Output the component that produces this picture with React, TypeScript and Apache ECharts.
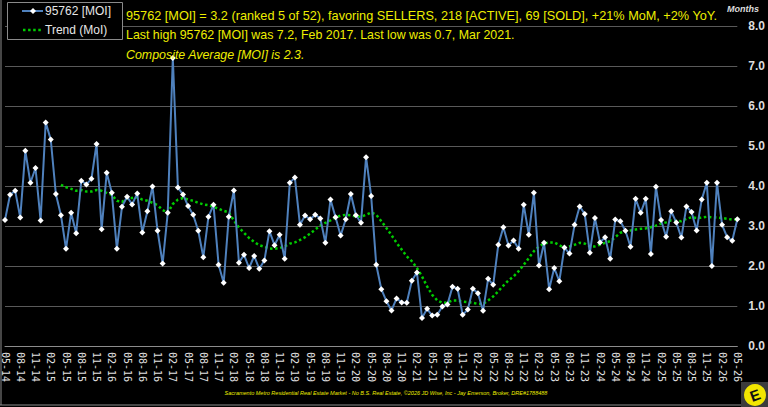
import React, { useEffect, useRef } from "react";
import * as echarts from "echarts";

// Monthly categories 05-14 .. 05-26
const categories: string[] = [];
for (let y = 2014, m = 5; y < 2026 || (y === 2026 && m <= 5); ) {
  categories.push(String(m).padStart(2, "0") + "-" + String(y % 100).padStart(2, "0"));
  m++;
  if (m > 12) { m = 1; y++; }
}

const moiValues: number[] = [
  3.15, 3.78, 3.88, 3.21, 4.88, 4.08, 4.45, 3.14, 5.59, 5.16, 3.80,
  3.27, 2.43, 3.33, 2.82, 4.13, 4.04, 4.18, 5.05, 2.92, 4.33, 3.83, 2.43, 3.48, 3.73, 3.54, 3.81, 2.84, 3.37, 3.99, 2.88, 2.06, 3.33, 7.2, 3.96, 3.79, 3.50,
  3.28, 2.88, 2.22, 3.23, 3.53, 2.03, 1.58, 3.23, 3.89, 2.08, 2.28, 1.95, 2.25, 1.93, 2.14, 2.87, 2.52, 2.78, 2.18, 4.08, 4.21, 3.03, 3.26, 3.17, 3.28, 3.19, 2.58, 3.66, 3.22, 2.76, 3.17, 3.80, 3.27, 3.08, 4.72, 3.75, 2.03,
  1.42, 1.12, 0.89, 1.19, 1.09, 1.08, 1.63, 1.84, 0.70, 0.93, 0.76, 0.78, 0.99, 1.04, 1.48, 1.43, 0.78, 0.91, 1.43, 1.32, 0.88, 1.68, 1.53, 2.53, 2.97, 2.51, 2.64, 2.43, 3.53, 2.78, 3.83, 2.01, 2.58, 1.42, 1.95, 1.62,
  2.46, 2.31, 3.03, 3.49, 3.30, 2.33, 3.20, 2.59, 2.72, 2.18, 3.16, 3.12, 2.88, 2.48, 3.68, 3.33, 3.68, 2.30, 3.98, 3.15, 2.73, 3.37, 3.09, 2.71, 3.49, 3.35, 2.89, 3.66, 4.08, 2.00, 4.08, 3.03, 2.72, 2.63, 3.17,
];

const trendValues: (number | null)[] = [
  null, null, null, null, null, null, null, null, null, null, null,
  4.03, 3.97, 3.93, 3.88, 3.90, 3.86, 3.86, 3.90, 3.88, 3.83, 3.78, 3.63, 3.60, 3.70, 3.70, 3.72, 3.66, 3.63, 3.58, 3.52, 3.40, 3.33, 3.55, 3.66, 3.70, 3.66,
  3.63, 3.58, 3.54, 3.52, 3.48, 3.43, 3.38, 3.34, 3.14, 2.96, 2.83, 2.70, 2.60, 2.52, 2.48, 2.44, 2.43, 2.45, 2.49, 2.56, 2.59, 2.65, 2.72, 2.81, 2.91, 3.01, 3.08, 3.14, 3.22, 3.26, 3.28, 3.27, 3.24, 3.23, 3.28, 3.34, 3.28,
  3.12, 2.95, 2.77, 2.58, 2.41, 2.24, 2.12, 1.95, 1.74, 1.49, 1.28, 1.14, 1.08, 1.09, 1.14, 1.14, 1.11, 1.10, 1.08, 1.05, 1.05, 1.14, 1.24, 1.37, 1.51, 1.64, 1.74, 1.87, 2.03, 2.20, 2.37, 2.49, 2.56, 2.59, 2.59, 2.52,
  2.45, 2.49, 2.53, 2.58, 2.56, 2.49, 2.49, 2.53, 2.58, 2.62, 2.72, 2.83, 2.87, 2.89, 2.91, 2.93, 2.94, 2.97, 3.01, 3.06, 3.09, 3.14, 3.13, 3.12, 3.18, 3.22, 3.20, 3.21, 3.23, 3.22, 3.21, 3.20, 3.18, 3.16, 3.16,
];

const yTicks = { min: 0, max: 8, interval: 1 };

const seriesNames = ["95762 [MOI]", "Trend (MoI)"];
const titleLines = [
  "95762 [MOI] = 3.2 (ranked 5 of 52), favoring SELLERS, 218 [ACTIVE], 69 [SOLD], +21% MoM, +2% YoY.",
  "Last high 95762 [MOI] was 7.2, Feb 2017. Last low was 0.7, Mar 2021.",
  "Composite Average [MOI] is 2.3.",
];
const footerText =
  "Sacramento Metro Residential Real Estate Market - No B.S. Real Estate, \u00A92026 JD Wise, Inc - Jay Emerson, Broker, DRE#1788488";

const YELLOW = "#EEEE00";
const BLUE = "#4F81BD";
const GREEN = "#00CC00";
const FONT = "'Liberation Sans', Arial, sans-serif";

export default function App() {
  const ref = useRef<HTMLDivElement>(null);
  useEffect(() => {
    if (!ref.current) return;
    const chart = echarts.init(ref.current, undefined, { renderer: "svg" });
    chart.setOption({
      animation: false,
      backgroundColor: "#000",
      grid: { left: 2, right: 30, top: 26, bottom: 61, containLabel: false },
      xAxis: {
        type: "category",
        data: categories,
        boundaryGap: false,
        axisLine: { show: true, lineStyle: { color: "#8c8c8c", width: 1 } },
        axisTick: { show: false },
        splitLine: { show: false },
        axisLabel: {
          interval: 2,
          rotate: -90,
          margin: 6,
          color: "#e0e0e0",
          fontSize: 10,
          fontFamily: "'DejaVu Sans Mono', monospace",
          hideOverlap: false,
        },
      },
      yAxis: {
        type: "value",
        position: "right",
        min: yTicks.min,
        max: yTicks.max,
        interval: yTicks.interval,
        axisLine: { show: false },
        axisTick: { show: false },
        splitLine: { lineStyle: { color: "#595959", width: 1 } },
        axisLabel: {
          margin: 11,
          color: "#dcdcdc",
          fontSize: 12,
          fontWeight: "bold",
          fontFamily: FONT,
          formatter: (v: number) => v.toFixed(1),
        },
      },
      series: [
        {
          name: seriesNames[0],
          type: "line",
          data: moiValues,
          symbol: "diamond",
          symbolSize: 6,
          showSymbol: true,
          showAllSymbol: true,
          itemStyle: { color: "#ffffff", borderWidth: 0 },
          lineStyle: { color: BLUE, width: 2 },
          z: 3,
        },
        {
          name: seriesNames[1],
          type: "line",
          data: trendValues,
          showSymbol: false,
          symbol: "none",
          connectNulls: false,
          itemStyle: { color: GREEN },
          lineStyle: { color: GREEN, width: 2.5, type: [2.5, 2.6] },
          z: 2,
        },
      ],
      graphic: [
        // legend box
        {
          type: "rect",
          shape: { x: 7.5, y: 2.5, width: 115, height: 37 },
          style: { fill: "#000", stroke: "#8a8a8a", lineWidth: 1 },
          z: 20,
        },
        {
          type: "line",
          shape: { x1: 22, y1: 11, x2: 43, y2: 11 },
          style: { stroke: BLUE, lineWidth: 2 },
          z: 21,
        },
        {
          type: "polygon",
          shape: { points: [[33, 8], [36, 11], [33, 14], [30, 11]] },
          style: { fill: "#fff" },
          z: 22,
        },
        {
          type: "text",
          x: 45,
          y: 11,
          style: { text: seriesNames[0], fill: "#e6e6e6", font: "12px " + FONT, verticalAlign: "middle" },
          z: 22,
        },
        {
          type: "line",
          shape: { x1: 23, y1: 30, x2: 43, y2: 30 },
          style: { stroke: GREEN, lineWidth: 2.5, lineDash: [2.5, 2.6] },
          z: 21,
        },
        {
          type: "text",
          x: 45,
          y: 30,
          style: { text: seriesNames[1], fill: "#e6e6e6", font: "12px " + FONT, verticalAlign: "middle" },
          z: 22,
        },
        // titles
        {
          type: "text",
          left: 126,
          top: 9,
          style: { text: titleLines[0], fill: YELLOW, font: "12.7px " + FONT },
          z: 10,
        },
        {
          type: "text",
          left: 126,
          top: 29,
          style: { text: titleLines[1], fill: YELLOW, font: "12.4px " + FONT },
          z: 10,
        },
        {
          type: "text",
          left: 126,
          top: 49,
          style: { text: titleLines[2], fill: YELLOW, font: "italic 12.4px " + FONT },
          z: 10,
        },
        {
          type: "text",
          left: 727,
          top: 4,
          style: { text: "Months", fill: "#dcdcdc", font: "italic bold 9px " + FONT },
          z: 10,
        },
        {
          type: "text",
          x: 386,
          y: 393,
          style: {
            text: footerText,
            fill: YELLOW,
            font: "italic 5.5px " + FONT,
            align: "center",
            verticalAlign: "middle",
          },
          z: 10,
        },
        // frame
        {
          type: "line",
          shape: { x1: 1, y1: 0, x2: 1, y2: 405 },
          style: { stroke: "#8c8c8c", lineWidth: 1 },
          z: 5,
        },
        {
          type: "line",
          shape: { x1: 0, y1: 405, x2: 741, y2: 405 },
          style: { stroke: "#8c8c8c", lineWidth: 1 },
          z: 5,
        },
        // logo
        {
          type: "rect",
          shape: { x: 741, y: 382, width: 27, height: 25 },
          style: { fill: "#3c3c3c" },
          z: 10,
        },
        {
          type: "circle",
          shape: { cx: 755, cy: 395, r: 11 },
          style: { fill: "#F2E600" },
          z: 11,
        },
        {
          type: "text",
          x: 755,
          y: 395,
          rotation: 0.35,
          style: {
            text: "E",
            fill: "#111",
            font: "bold 15px " + FONT,
            align: "center",
            verticalAlign: "middle",
          },
          z: 12,
        },
      ],
    });
    return () => chart.dispose();
  }, []);
  return (
    <div
      ref={ref}
      style={{ position: "fixed", left: 0, top: 0, width: 768, height: 407, background: "#000" }}
    />
  );
}
